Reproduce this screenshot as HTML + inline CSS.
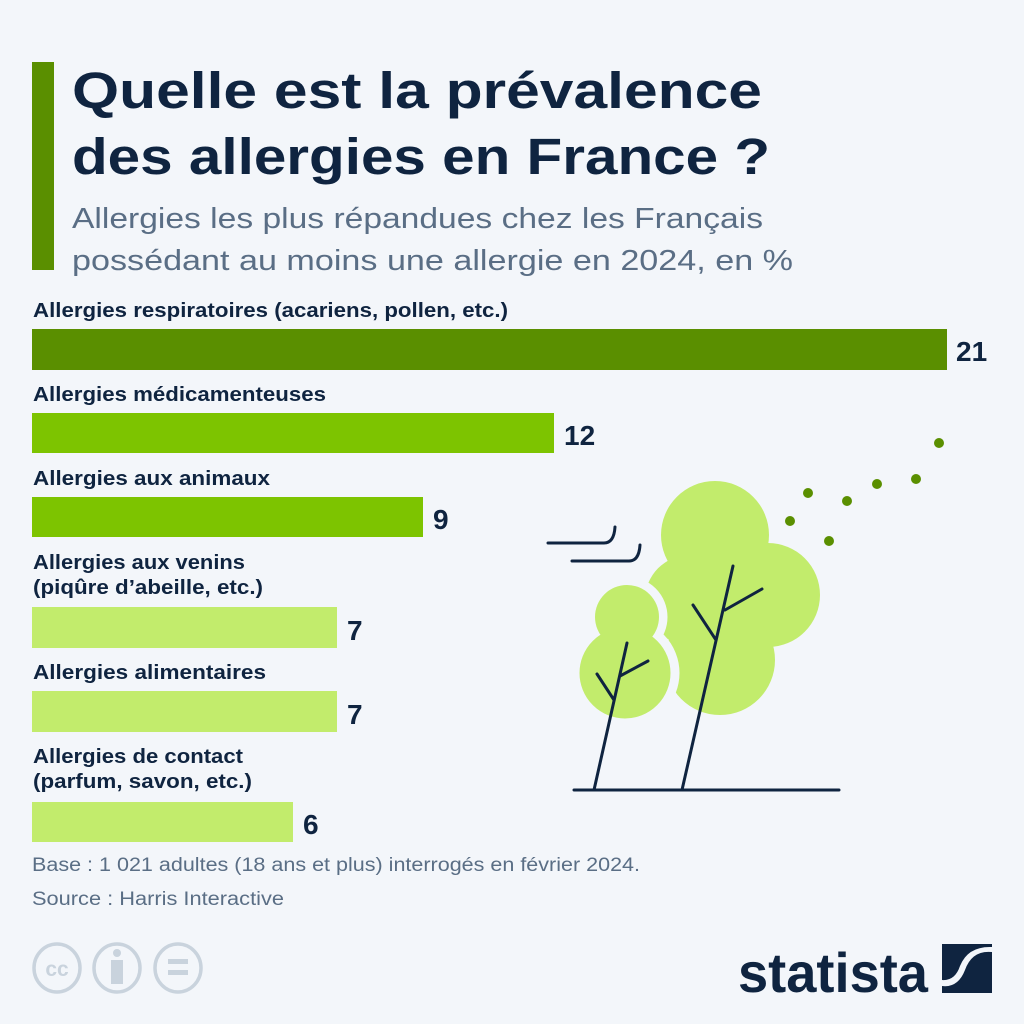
<!DOCTYPE html>
<html><head><meta charset="utf-8"><style>
body{margin:0;background:#f3f6fa;}
svg{display:block}
text{font-family:"Liberation Sans",sans-serif;}
</style></head><body>
<svg width="1024" height="1024" viewBox="0 0 1024 1024">
<rect width="1024" height="1024" fill="#f3f6fa"/>
<rect x="32" y="62" width="22" height="208" fill="#5a8f00"/>
<text x="72" y="108" font-size="51" font-weight="bold" fill="#0f2440" textLength="690" lengthAdjust="spacingAndGlyphs">Quelle est la prévalence</text>
<text x="72" y="174" font-size="51" font-weight="bold" fill="#0f2440" textLength="698" lengthAdjust="spacingAndGlyphs">des allergies en France ?</text>
<text x="72" y="228" font-size="29" fill="#5a6e85" textLength="691" lengthAdjust="spacingAndGlyphs">Allergies les plus répandues chez les Français</text>
<text x="72" y="270" font-size="29" fill="#5a6e85" textLength="721" lengthAdjust="spacingAndGlyphs">possédant au moins une allergie en 2024, en %</text>
<g font-size="20" font-weight="bold" fill="#0f2440">
<text x="33" y="317" textLength="475" lengthAdjust="spacingAndGlyphs">Allergies respiratoires (acariens, pollen, etc.)</text>
<text x="33" y="401" textLength="293" lengthAdjust="spacingAndGlyphs">Allergies médicamenteuses</text>
<text x="33" y="485" textLength="237" lengthAdjust="spacingAndGlyphs">Allergies aux animaux</text>
<text x="33" y="569" textLength="212" lengthAdjust="spacingAndGlyphs">Allergies aux venins</text>
<text x="33" y="594" textLength="230" lengthAdjust="spacingAndGlyphs">(piqûre d’abeille, etc.)</text>
<text x="33" y="679" textLength="233" lengthAdjust="spacingAndGlyphs">Allergies alimentaires</text>
<text x="33" y="763" textLength="210" lengthAdjust="spacingAndGlyphs">Allergies de contact</text>
<text x="33" y="788" textLength="219" lengthAdjust="spacingAndGlyphs">(parfum, savon, etc.)</text>
</g>
<rect x="32" y="329" width="915" height="41" fill="#5a8f00"/>
<rect x="32" y="413" width="522" height="40" fill="#7dc400"/>
<rect x="32" y="497" width="391" height="40" fill="#7dc400"/>
<rect x="32" y="607" width="305" height="41" fill="#c2ec6c"/>
<rect x="32" y="691" width="305" height="41" fill="#c2ec6c"/>
<rect x="32" y="802" width="261" height="40" fill="#c2ec6c"/>
<g font-size="28" font-weight="bold" fill="#0f2440">
<text x="956" y="361">21</text>
<text x="564" y="445">12</text>
<text x="433" y="529">9</text>
<text x="347" y="640">7</text>
<text x="347" y="724">7</text>
<text x="303" y="834">6</text>
</g>
<text x="32" y="871" font-size="19" fill="#5a6e85" textLength="608" lengthAdjust="spacingAndGlyphs">Base : 1 021 adultes (18 ans et plus) interrogés en février 2024.</text>
<text x="32" y="905" font-size="19" fill="#5a6e85" textLength="252" lengthAdjust="spacingAndGlyphs">Source : Harris Interactive</text>
<g fill="#c2ec6c">
<circle cx="715" cy="535" r="54"/>
<circle cx="768" cy="595" r="52"/>
<circle cx="720" cy="660" r="55"/>
<circle cx="690" cy="600" r="45"/>
</g>
<g fill="#c2ec6c" stroke="#f3f6fa" stroke-width="9">
<circle cx="627" cy="617" r="36"/>
<circle cx="625" cy="673" r="50"/>
</g>
<g fill="#c2ec6c">
<circle cx="627" cy="617" r="32"/>
<circle cx="625" cy="673" r="45"/>
</g>
<g stroke="#0f2440" stroke-width="3" fill="none" stroke-linecap="round">
<line x1="574" y1="790" x2="839" y2="790"/>
<line x1="594" y1="790" x2="627" y2="643"/>
<line x1="597" y1="674" x2="614" y2="700"/>
<line x1="620" y1="676" x2="648" y2="661"/>
<line x1="682" y1="790" x2="733" y2="566"/>
<line x1="693" y1="605" x2="716" y2="640"/>
<line x1="725" y1="610" x2="762" y2="589"/>
<path d="M548 543 H604 Q614 543 615 527"/>
<path d="M572 561 H629 Q639 561 640 545"/>
</g>
<g fill="#5a8f00">
<circle cx="790" cy="521" r="5"/><circle cx="808" cy="493" r="5"/>
<circle cx="829" cy="541" r="5"/><circle cx="847" cy="501" r="5"/>
<circle cx="877" cy="484" r="5"/><circle cx="916" cy="479" r="5"/>
<circle cx="939" cy="443" r="5"/>
</g>
<g stroke="#c9d3dd" stroke-width="3.5" fill="none">
<ellipse cx="57" cy="968" rx="23" ry="24"/>
<ellipse cx="117" cy="968" rx="23" ry="24"/>
<ellipse cx="178" cy="968" rx="23" ry="24"/>
</g>
<text x="57" y="976" font-size="21" font-weight="bold" fill="#c9d3dd" text-anchor="middle">cc</text>
<circle cx="117" cy="953" r="4" fill="#c9d3dd"/>
<rect x="111" y="960" width="12" height="24" fill="#c9d3dd"/>
<rect x="168" y="959" width="20" height="5" fill="#c9d3dd"/>
<rect x="168" y="970" width="20" height="5" fill="#c9d3dd"/>
<text x="738" y="992" font-size="56" font-weight="bold" fill="#0f2440" textLength="190" lengthAdjust="spacingAndGlyphs">statista</text>
<rect x="942" y="944" width="50" height="49" fill="#0f2440"/>
<path d="M992 952 Q972 950 965 970 Q958 988 942 986 L942 980 Q955 981 960 966 Q968 946 992 947 Z" fill="#f3f6fa"/>
</svg>
</body></html>
